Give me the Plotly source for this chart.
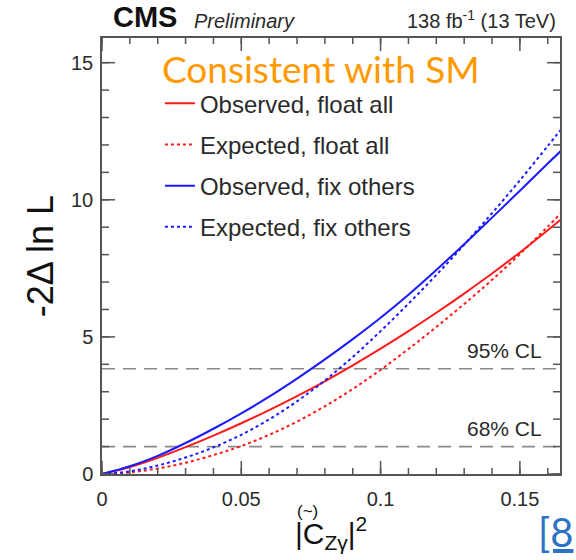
import plotly.graph_objects as go

# |C_Zgamma|^2 scan points
c2 = [0.0, 0.01, 0.02, 0.03, 0.04, 0.05, 0.06, 0.07, 0.08, 0.09,
      0.10, 0.11, 0.12, 0.13, 0.14, 0.15, 0.16, 0.165]

# -2 Delta ln L for each scan
obs_float = [0.0, 0.25, 0.59, 0.98, 1.40, 1.85, 2.33, 2.84, 3.38, 3.96,
             4.57, 5.21, 5.88, 6.58, 7.31, 8.08, 8.89, 9.30]
exp_float = [0.0, 0.06, 0.20, 0.41, 0.69, 1.02, 1.43, 1.91, 2.47, 3.10,
             3.80, 4.56, 5.36, 6.20, 7.08, 8.02, 9.02, 9.54]
obs_fix = [0.0, 0.28, 0.66, 1.13, 1.65, 2.21, 2.82, 3.48, 4.18, 4.92,
           5.70, 6.54, 7.44, 8.38, 9.35, 10.33, 11.32, 11.81]
exp_fix = [0.0, 0.10, 0.31, 0.60, 0.97, 1.43, 1.99, 2.65, 3.41, 4.27,
           5.21, 6.21, 7.26, 8.36, 9.51, 10.71, 11.96, 12.59]

series_names = ["Observed, float all", "Expected, float all",
                "Observed, fix others", "Expected, fix others"]
series_values = [obs_float, exp_float, obs_fix, exp_fix]
series_colors = ["#ff1a1a", "#ff1a1a", "#1a1aff", "#1a1aff"]
series_dash = ["solid", "3px,3px", "solid", "3px,3px"]

cl_levels = [1.0, 3.84]
cl_labels = ["68% CL", "95% CL"]

x_range = [0, 0.1644]
y_range = [0, 15.9]
x_major, x_minor = 0.05, 0.01
y_major, y_minor = 5, 1

FONT = "Liberation Sans, Arial, sans-serif"
AXIS_COLOR = "#555555"
TEXT_COLOR = "#2a2a2a"

fig = go.Figure()

for name, vals, col, dash in zip(series_names, series_values, series_colors, series_dash):
    fig.add_trace(go.Scatter(
        x=c2, y=vals, mode="lines", name=name, legendgroup=name,
        line=dict(color=col, width=2, dash=dash, shape="spline", smoothing=1.0),
    ))

# confidence-level reference lines with labels
for lvl, lab in zip(cl_levels, cl_labels):
    fig.add_shape(type="line", xref="paper", yref="y", x0=0, x1=1, y0=lvl, y1=lvl,
                  line=dict(color="#8a8a8a", width=1.6, dash="13px,8px"), layer="below")
    fig.add_annotation(xref="paper", yref="y", x=0.965, y=lvl, xanchor="right",
                       yanchor="bottom", yshift=5, showarrow=False, text=lab,
                       font=dict(family=FONT, size=21, color=TEXT_COLOR))


def tick_values(lo, hi, step):
    vals, k = [], 0
    while k * step <= hi + 1e-9:
        if k * step >= lo - 1e-9:
            vals.append(round(k * step, 10))
        k += 1
    return vals


# inward tick marks on all four sides of the frame (pixel-length, anchored to the axes)
tick_line = dict(color=AXIS_COLOR, width=1.5)
for step, length in [(x_minor, 6), (x_major, 13)]:
    for v in tick_values(x_range[0], x_range[1], step):
        for anchor, sign in [(0, 1), (1, -1)]:
            fig.add_shape(type="line", xref="x", yref="paper", x0=v, x1=v,
                          ysizemode="pixel", yanchor=anchor, y0=0, y1=sign * length,
                          line=tick_line, layer="above")
for step, length in [(y_minor, 7), (y_major, 13)]:
    for v in tick_values(y_range[0], y_range[1], step):
        for anchor, sign in [(0, 1), (1, -1)]:
            fig.add_shape(type="line", xref="paper", yref="y", y0=v, y1=v,
                          xsizemode="pixel", xanchor=anchor, x0=0, x1=sign * length,
                          line=tick_line, layer="above")

axis_common = dict(showgrid=False, zeroline=False, showline=True, mirror=True,
                   linecolor=AXIS_COLOR, linewidth=1.5, ticks="",
                   tickfont=dict(family=FONT, size=20, color=TEXT_COLOR))
fig.update_layout(
    xaxis=dict(range=x_range, dtick=x_major, tick0=0, ticklabelstandoff=6, **axis_common),
    yaxis=dict(range=y_range, dtick=y_major, tick0=0, ticklabelstandoff=3, **axis_common),
)

# headers
fig.add_annotation(xref="paper", yref="paper", x=0.02, y=1.0, xanchor="left", yanchor="bottom",
                   yshift=3, showarrow=False, text="<b>CMS</b>",
                   font=dict(family=FONT, size=29, color="#111111"))
fig.add_annotation(xref="paper", yref="paper", x=0.197, y=1.0, xanchor="left", yanchor="bottom",
                   yshift=4, showarrow=False, text="<i>Preliminary</i>",
                   font=dict(family=FONT, size=20, color=TEXT_COLOR))
fig.add_annotation(xref="paper", yref="paper", x=0.995, y=1.0, xanchor="right", yanchor="bottom",
                   yshift=4, showarrow=False, text="138 fb<sup>-1</sup> (13 TeV)",
                   font=dict(family=FONT, size=20, color=TEXT_COLOR))

fig.add_annotation(xref="paper", yref="paper", x=0.478, y=0.931, xanchor="center", yanchor="middle",
                   showarrow=False, text="Consistent with SM",
                   font=dict(family="Lato, sans-serif", size=37, color="#ff9900"))

# axis titles
fig.add_annotation(xref="paper", yref="paper", x=-0.135, y=0.5, xanchor="center", yanchor="middle",
                   textangle=-90, showarrow=False, text="-2\u0394 ln L",
                   font=dict(family=FONT, size=36, color="#111111"))
fig.add_annotation(xref="paper", yref="paper", x=0.50, y=-0.135, xanchor="center", yanchor="middle",
                   showarrow=False, text="|C<sub>Z\u03b3</sub>|<sup>2</sup>",
                   font=dict(family=FONT, size=30, color="#111111"))
fig.add_annotation(xref="paper", yref="paper", x=0.449, y=-0.085, xanchor="center", yanchor="middle",
                   showarrow=False, text="(~)",
                   font=dict(family=FONT, size=17, color="#111111"))

fig.add_annotation(xref="paper", yref="paper", x=0.948, y=-0.133, xanchor="left", yanchor="middle",
                   showarrow=False, text="<u>[8</u>",
                   font=dict(family="Lato, sans-serif", size=40, color="#2e74c6"))

fig.update_layout(
    width=576, height=560,
    margin=dict(l=102, r=16, t=38, b=86, pad=0, autoexpand=False),
    paper_bgcolor="white", plot_bgcolor="white",
    showlegend=True,
    legend=dict(x=0.1265, y=0.901, xanchor="left", yanchor="top", bgcolor="rgba(0,0,0,0)",
                font=dict(family=FONT, size=24, color=TEXT_COLOR),
                tracegroupgap=7, traceorder="grouped", itemwidth=30),
)

fig.write_html("out.html")
